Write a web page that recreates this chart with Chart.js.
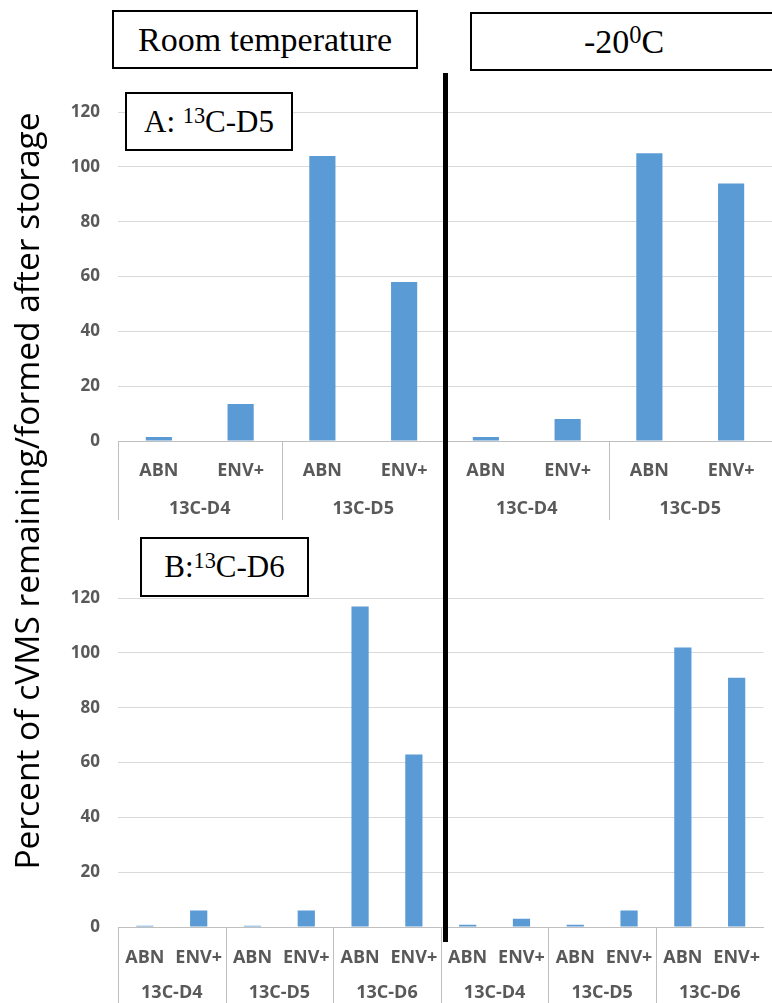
<!DOCTYPE html>
<html>
<head>
<meta charset="utf-8">
<script src="https://cdn.jsdelivr.net/npm/chart.js"></script>
<style>
    body { margin: 0; width: 772px; height: 1003px; overflow: hidden; background: #fff; position: relative; }
    .wrap { position: absolute; left: 0; width: 772px; }
    .box { position: absolute; background: #fff; border: 2px solid #000; box-sizing: border-box;
           font-family: "Liberation Serif", serif; color: #000; text-align: center; z-index: 3; }
    .box sup { font-size: 0.72em; vertical-align: 0.42em; line-height: 0; }
    #divider { position: absolute; left: 443px; top: 73px; width: 5px; height: 869px; background: #000; z-index: 4; }
    #ytitle { position: absolute; left: -374px; top: 471px; width: 800px; height: 40px; line-height: 40px;
              text-align: center; transform: rotate(-90deg); font-family: "Open Sans", sans-serif;
              font-size: 33.5px; color: #000; z-index: 2; }
</style>
</head>
<body>

<div class="box" style="left:112px; top:10px; width:306px; height:59px; line-height:55px; font-size:34px;">Room temperature</div>
<div class="box" style="left:470px; top:12px; width:320px; height:59px; line-height:55px; font-size:34px; padding-right:12px;">-20<sup>0</sup>C</div>
<div class="box" style="left:125px; top:92px; width:168px; height:59px; line-height:55px; font-size:31px;">A: <sup>13</sup>C-D5</div>
<div class="box" style="left:140px; top:537px; width:169px; height:60px; line-height:56px; font-size:31px;">B:<sup>13</sup>C-D6</div>
<div id="divider"></div>
<div id="ytitle">Percent of cVMS remaining/formed after storage</div>

<div class="wrap" style="top:84px; height:441px;"><canvas id="chart-a"></canvas></div>
<div class="wrap" style="top:570px; height:433px;"><canvas id="chart-b"></canvas></div>

<script>
    // Data
    var topSorbents = ["ABN", "ENV+", "ABN", "ENV+", "ABN", "ENV+", "ABN", "ENV+"];
    var topGroups = ["13C-D4", "13C-D5", "13C-D4", "13C-D5"];
    var topValues = [1.5, 13.5, 104, 58, 1.5, 8, 105, 94];

    var bottomSorbents = ["ABN", "ENV+", "ABN", "ENV+", "ABN", "ENV+",
                          "ABN", "ENV+", "ABN", "ENV+", "ABN", "ENV+"];
    var bottomGroups = ["13C-D4", "13C-D5", "13C-D6", "13C-D4", "13C-D5", "13C-D6"];
    var bottomValues = [0.5, 6, 0.5, 6, 117, 63, 0.8, 3, 0.8, 6, 102, 91];

    var yTicks = [0, 20, 40, 60, 80, 100, 120];

    var tickColor = "#595959";
    var barColor = "#5B9BD5";

    // Second label row (group names) with separators
    var groupLabels = {
        id: "groupLabels",
        afterDraw: function (chart) {
            var opts = chart.options.plugins.groupLabels;
            var x = chart.scales.x;
            var ctx = chart.ctx;
            var base = chart.chartArea.bottom;
            var step = x.getPixelForValue(1) - x.getPixelForValue(0);
            var per = x.getLabels().length / opts.groups.length;
            ctx.save();
            ctx.font = "bold 18px 'Open Sans'";
            ctx.fillStyle = tickColor;
            ctx.textAlign = "center";
            ctx.textBaseline = "middle";
            ctx.strokeStyle = "#bfbfbf";
            ctx.lineWidth = 1;
            opts.groups.forEach(function (g, i) {
                var left = x.getPixelForValue(i * per) - step / 2;
                var right = x.getPixelForValue(i * per + per - 1) + step / 2;
                ctx.beginPath();
                ctx.moveTo(Math.round(left) + 0.5, base);
                ctx.lineTo(Math.round(left) + 0.5, base + opts.lineLength);
                ctx.stroke();
                ctx.fillText(g, (left + right) / 2, base + opts.labelOffset);
            });
            ctx.restore();
        }
    };

    function makeChart(id, labels, groups, values, axisHeight, tickPad, labelOffset, lineLength) {
        var ctx = document.getElementById(id).getContext("2d");
        return new Chart(ctx, {
            type: "bar",
            data: {
                labels: labels,
                datasets: [{
                    data: values,
                    backgroundColor: barColor,
                    barPercentage: 0.32,
                    categoryPercentage: 1
                }]
            },
            options: {
                responsive: true,
                maintainAspectRatio: false,
                animation: false,
                layout: { padding: { top: 12, right: 0, bottom: 0, left: 0 } },
                plugins: {
                    legend: { display: false },
                    tooltip: { enabled: false },
                    groupLabels: { groups: groups, labelOffset: labelOffset, lineLength: lineLength }
                },
                scales: {
                    x: {
                        grid: { display: false },
                        border: { color: "#bfbfbf", width: 1 },
                        ticks: {
                            color: tickColor,
                            font: { family: "Open Sans", weight: "bold", size: 18 },
                            autoSkip: false,
                            maxRotation: 0,
                            padding: tickPad
                        },
                        afterFit: function (scale) { scale.height = axisHeight; }
                    },
                    y: {
                        min: 0,
                        max: 120,
                        afterBuildTicks: function (scale) {
                            scale.ticks = yTicks.map(function (v) { return { value: v }; });
                        },
                        grid: { color: "#d9d9d9", drawTicks: false },
                        border: { display: false },
                        ticks: {
                            color: tickColor,
                            font: { family: "Open Sans", weight: "bold", size: 17 },
                            padding: 18
                        },
                        afterFit: function (scale) { scale.width = 118; }
                    }
                }
            },
            plugins: [groupLabels]
        });
    }

    // Panel A
    makeChart("chart-a", topSorbents, topGroups, topValues, 84, 11, 68, 79);

    // Panel B
    makeChart("chart-b", bottomSorbents, bottomGroups, bottomValues, 76, 12, 66, 76);
</script>
</body>
</html>
